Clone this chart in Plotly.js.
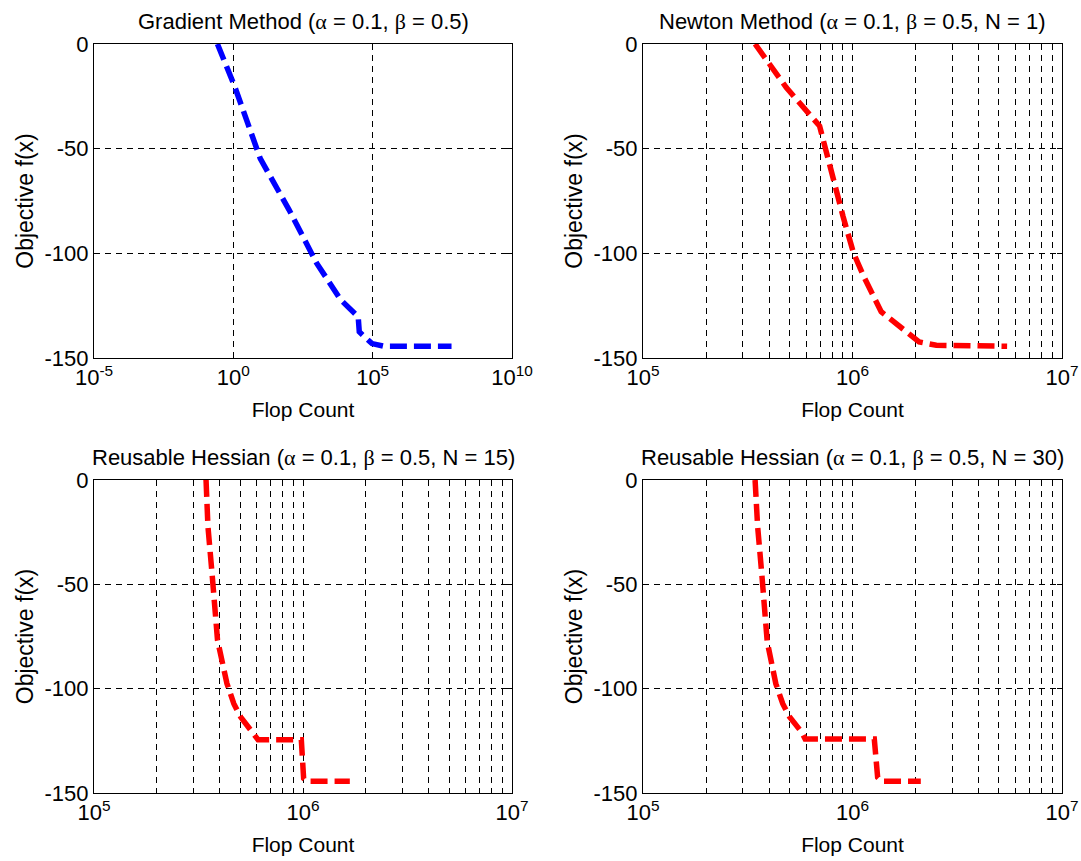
<!DOCTYPE html>
<html>
<head>
<meta charset="utf-8">
<script src="https://cdn.plot.ly/plotly-3.0.1.min.js"></script>
<style>html,body{margin:0;padding:0;background:#fff;}#chart{width:1081px;height:861px;}</style>
</head>
<body>
<div id="chart"></div>
<script>
// ---- data (flop count, objective value) ----
const gradFlops = [0.269, 1.12, 9.29, 100, 977, 7244, 30200, 33100, 94400, 257000, 67600000];
const gradObj   = [0, -20.3, -54.8, -79.2, -104.7, -122.3, -130.3, -137.5, -143.1, -144.4, -144.4];

const newtonFlops = [342800, 483100, 696600, 805400, 901600, 1011600, 1132400, 1370900, 1721900, 2079700, 2511900, 5470200];
const newtonObj   = [0, -20.8, -39.2, -64.8, -82.4, -99.9, -111.1, -127.9, -135.9, -142.3, -143.9, -144.4];

const reuse15Flops = [343600, 350800, 368100, 385500, 389900, 432500, 466700, 503500, 586100, 609500, 981800, 1007000, 1040000, 1675000];
const reuse15Obj   = [0, -22.1, -46.2, -71.9, -76.7, -97.5, -107.2, -113.6, -122.4, -124.5, -124.5, -143.0, -144.4, -144.4];

const reuse30Flops = [342800, 352400, 369800, 384600, 391700, 430500, 464500, 501200, 572800, 594300, 1270600, 1318300, 1370900, 2118400];
const reuse30Obj   = [0, -22.1, -46.2, -71.9, -77.5, -97.6, -107.2, -113.6, -120.9, -124.1, -124.1, -142.5, -144.4, -144.4];

const G = '<span style="font-family:\'Liberation Serif\',serif">';
const titles = [
  'Gradient Method (' + G + '\u03b1</span> = 0.1, ' + G + '\u03b2</span> = 0.5)',
  'Newton Method (' + G + '\u03b1</span> = 0.1, ' + G + '\u03b2</span> = 0.5, N = 1)',
  'Reusable Hessian (' + G + '\u03b1</span> = 0.1, ' + G + '\u03b2</span> = 0.5, N = 15)',
  'Reusable Hessian (' + G + '\u03b1</span> = 0.1, ' + G + '\u03b2</span> = 0.5, N = 30)'
];
const xTitle = 'Flop Count';
const yTitle = 'Objective f(x)';
const gradTickVals = [1e-5, 1, 1e5, 1e10];
const gradTickText = ['10<sup>-5</sup>', '10<sup>0</sup>', '10<sup>5</sup>', '10<sup>10</sup>'];
const newtTickVals = [1e5, 1e6, 1e7];
const newtTickText = ['10<sup>5</sup>', '10<sup>6</sup>', '10<sup>7</sup>'];
const yTickVals = [-150, -100, -50, 0];
const yTickText = ['-150', '-100', '-50', '0'];

// ---- styling ----
const FONT = 'Liberation Sans, Arial, sans-serif';
const GRIDDASH = '6px,5px';
const LINEDASH = '17px,7px';

function mkLine(x, y, color, xa, ya) {
  return {x: x, y: y, type: 'scatter', mode: 'lines', xaxis: xa, yaxis: ya,
    line: {color: color, width: 5.5, dash: LINEDASH}, showlegend: false, hoverinfo: 'skip'};
}

const data = [
  mkLine(gradFlops, gradObj, '#0000ff', 'x', 'y'),
  mkLine(newtonFlops, newtonObj, '#ff0000', 'x2', 'y2'),
  mkLine(reuse15Flops, reuse15Obj, '#ff0000', 'x3', 'y3'),
  mkLine(reuse30Flops, reuse30Obj, '#ff0000', 'x4', 'y4')
];

const colL = [94/1081, 512/1081];
const colR = [643/1081, 1062/1081];
const rowT = [1 - 358/861, 1 - 44/861];
const rowB = [1 - 793/861, 1 - 480/861];

function xax(domain, anchor, isGrad) {
  const a = {
    domain: domain, anchor: anchor, type: 'log',
    showline: true, linecolor: '#000', linewidth: 1, mirror: 'ticks',
    ticks: 'inside', ticklen: 5, tickcolor: '#000',
    showgrid: true, gridcolor: '#000', gridwidth: 1, griddash: GRIDDASH,
    zeroline: false,
    tickfont: {family: FONT, size: 22, color: '#000'},
    title: {text: xTitle, font: {family: FONT, size: 21, color: '#000'}, standoff: 12},
    fixedrange: true
  };
  if (isGrad) {
    a.range = [-5, 10];
    a.tickvals = gradTickVals; a.ticktext = gradTickText;
  } else {
    a.range = [5, 7];
    a.tickvals = newtTickVals; a.ticktext = newtTickText;
    a.minor = {dtick: 'D1', showgrid: true, gridcolor: '#000', gridwidth: 1, griddash: GRIDDASH,
               ticks: 'inside', ticklen: 3, tickcolor: '#000'};
  }
  return a;
}
function yax(domain, anchor) {
  return {
    domain: domain, anchor: anchor, range: [-150, 0], tickvals: yTickVals, ticktext: yTickText,
    showline: true, linecolor: '#000', linewidth: 1, mirror: 'ticks',
    ticks: 'inside', ticklen: 5, tickcolor: '#000',
    showgrid: true, gridcolor: '#000', gridwidth: 1, griddash: GRIDDASH,
    zeroline: false,
    tickfont: {family: FONT, size: 22, color: '#000'},
    title: {text: yTitle, font: {family: FONT, size: 23, color: '#000'}, standoff: 4},
    fixedrange: true
  };
}

function ttl(text, dom, top) {
  return {text: text, xref: 'paper', yref: 'paper', x: (dom[0] + dom[1]) / 2, y: top,
    xanchor: 'center', yanchor: 'bottom', yshift: 8, showarrow: false,
    font: {family: FONT, size: 22, color: '#000'}};
}

const layout = {
  width: 1081, height: 861,
  margin: {l: 0, r: 0, t: 0, b: 0},
  paper_bgcolor: '#fff', plot_bgcolor: '#fff',
  showlegend: false,
  xaxis: xax(colL, 'y', true),   yaxis: yax(rowT, 'x'),
  xaxis2: xax(colR, 'y2', false), yaxis2: yax(rowT, 'x2'),
  xaxis3: xax(colL, 'y3', false), yaxis3: yax(rowB, 'x3'),
  xaxis4: xax(colR, 'y4', false), yaxis4: yax(rowB, 'x4'),
  annotations: [
    ttl(titles[0], colL, rowT[1]), ttl(titles[1], colR, rowT[1]),
    ttl(titles[2], colL, rowB[1]), ttl(titles[3], colR, rowB[1])
  ]
};

Plotly.newPlot('chart', data, layout, {displayModeBar: false, staticPlot: true});
</script>
</body>
</html>
